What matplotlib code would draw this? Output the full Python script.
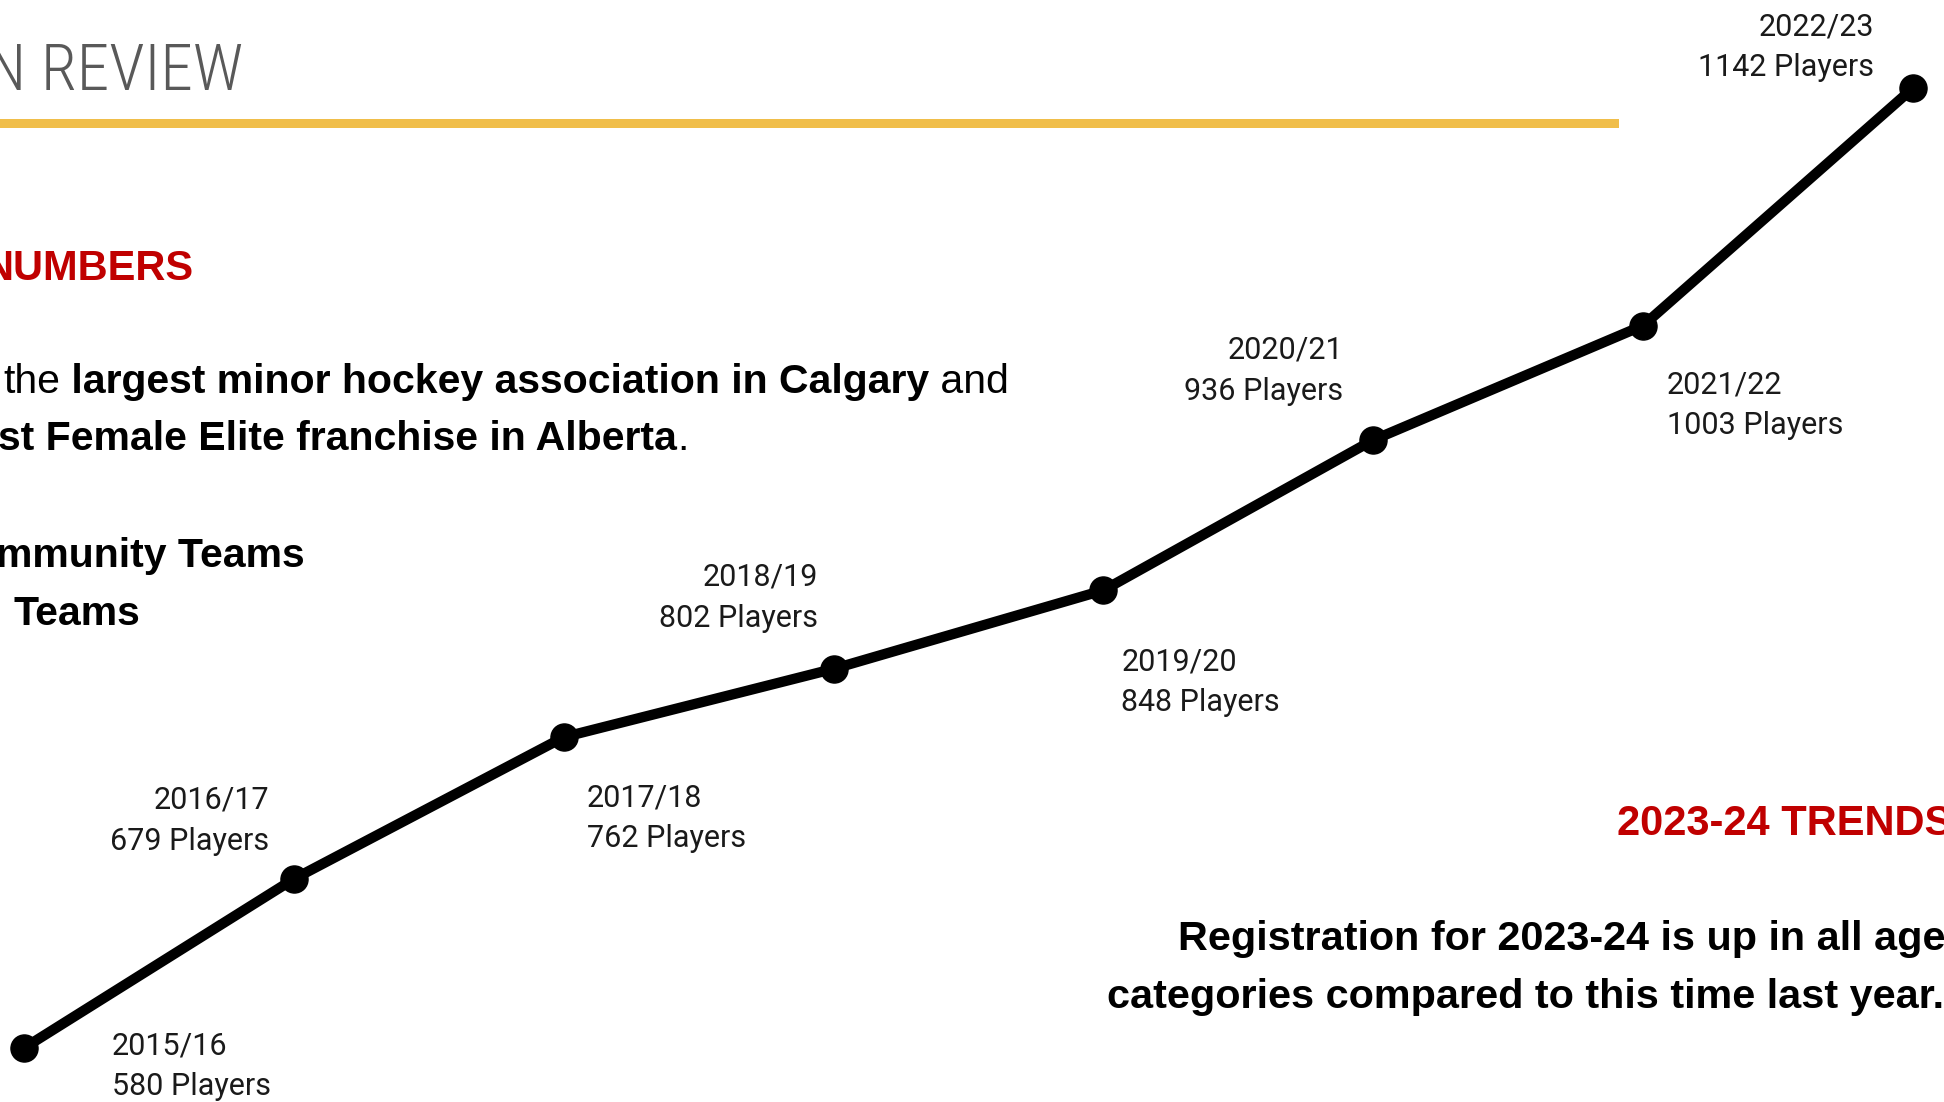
import matplotlib
matplotlib.use("Agg")
import matplotlib.pyplot as plt
from matplotlib import font_manager
from matplotlib.patches import Rectangle

# data
seasons = ["2015/16", "2016/17", "2017/18", "2018/19", "2019/20", "2020/21", "2021/22", "2022/23"]
players = [580, 679, 762, 802, 848, 936, 1003, 1142]

# where each label sits relative to its point (pixels), and which side it goes
label_dx = [88, -25, 23, -16, 18, -30, 24, -39]
label_dy = [-6, 70, -69, 83, -80, 81, -67.5, 53]
label_ha = ["left", "right", "left", "right", "left", "right", "left", "right"]

W, H = 1944, 1102

installed = {f.name for f in font_manager.fontManager.ttflist}
narrow = "Liberation Sans Narrow" if "Liberation Sans Narrow" in installed else "Liberation Sans"
label_font = "Roboto" if "Roboto" in installed else "DejaVu Sans"
thin_font = next((f for f in ["Roboto Condensed", "Liberation Sans Narrow", "Roboto"] if f in installed),
                 "DejaVu Sans")

fig = plt.figure(figsize=(W / 100, H / 100), dpi=100)
fig.patch.set_facecolor("white")
ax = fig.add_axes([0, 0, 1, 1])
ax.set_axis_off()

x = list(range(len(players)))
ax.plot(x, players, color="black", lw=7.4, marker="o", ms=19.5,
        solid_joinstyle="round", zorder=3)
ax.set_xlim(-0.0889, 7.115)
ax.set_ylim(548.4, 1193.6)

for i, (s, p) in enumerate(zip(seasons, players)):
    ax.annotate(s, (i, p), xytext=(label_dx[i], label_dy[i]), textcoords="offset pixels",
                ha=label_ha[i], va="baseline", fontsize=22, family=label_font, color="#1a1a1a")
    ax.annotate(f"{p} Players", (i, p), xytext=(label_dx[i], label_dy[i] - 41),
                textcoords="offset pixels", ha=label_ha[i], va="baseline",
                fontsize=22, family=label_font, color="#1a1a1a")


def fx(px):
    return px / W


def fy(py):
    return 1 - py / H


# header and yellow rule
fig.text(fx(243), fy(90), "N REVIEW", ha="right", va="baseline", fontsize=47,
         fontweight="light", family=thin_font, color="#595959")
fig.patches.append(Rectangle((0, fy(128)), fx(1619), 9 / H, transform=fig.transFigure,
                             facecolor="#F0BE4A", edgecolor="none"))

red = "#C00000"
fig.text(fx(193), fy(280), "NUMBERS", ha="right", va="baseline", fontsize=30,
         fontweight="bold", family=narrow, color=red)
fig.text(fx(1617), fy(835), "2023-24 TRENDS", ha="left", va="baseline", fontsize=30,
         fontweight="bold", family=narrow, color=red)

renderer = fig.canvas.get_renderer()
body = 29.5


def write_runs(px, py, runs, size):
    for txt, weight in runs:
        t = fig.text(fx(px), fy(py), txt, ha="left", va="baseline", fontsize=size,
                     fontweight=weight, family=narrow, color="black")
        px += t.get_window_extent(renderer).width


write_runs(3, 393, [("the", "normal"),
                    (" largest minor hockey association in Calgary", "bold"),
                    (" and", "normal")], body)
write_runs(-2, 450, [("st Female Elite franchise in Alberta", "bold"),
                     (".", "normal")], body)
fig.text(fx(305), fy(567), "mmunity Teams", ha="right", va="baseline", fontsize=body,
         fontweight="bold", family=narrow, color="black")
fig.text(fx(13), fy(625), "Teams", ha="left", va="baseline", fontsize=body,
         fontweight="bold", family=narrow, color="black")

fig.text(fx(1178), fy(950), "Registration for 2023-24 is up in all ages", ha="left",
         va="baseline", fontsize=29.8, fontweight="bold", family=narrow, color="black")
fig.text(fx(1107), fy(1008), "categories compared to this time last year.", ha="left",
         va="baseline", fontsize=29.8, fontweight="bold", family=narrow, color="black")

fig.savefig("out.png", dpi=100, facecolor="white")
